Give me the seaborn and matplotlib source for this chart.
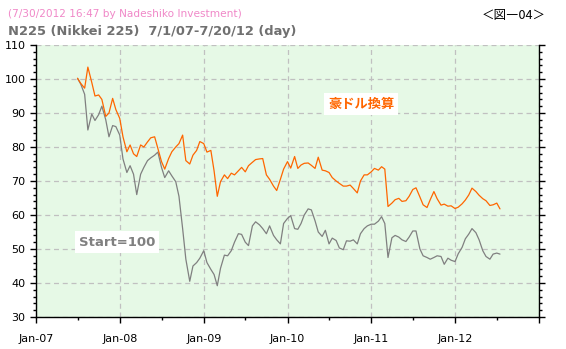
import numpy as np
import pandas as pd
import matplotlib
matplotlib.use("Agg")
import matplotlib.pyplot as plt
import matplotlib.dates as mdates
from matplotlib.ticker import MultipleLocator, FuncFormatter
import seaborn as sns

# Semi-monthly observations, 1 Jul 2007 - 15 Jul 2012 (start = 100)
dates = pd.date_range("2007-07-01", periods=122, freq="SMS")

# Nikkei 225 converted to Australian dollars
n225_aud = [
    100.2, 98.7, 97.3, 103.5, 99.0, 95.0, 95.3, 94.0, 89.0, 90.0, 94.3, 91.0,
    88.4, 83.0, 78.6, 80.6, 78.0, 77.2, 80.6, 80.0, 81.5, 82.7, 83.0, 79.6,
    75.7, 73.5, 76.6, 78.6, 80.0, 81.0, 83.5, 76.0, 75.0, 77.6, 79.0, 81.6,
    81.0, 78.5, 79.0, 73.0, 65.5, 69.8, 71.8, 70.7, 72.3, 71.8, 73.0, 74.0,
    72.7, 74.5, 75.5, 76.3, 76.5, 76.6, 71.8, 70.5, 68.5, 67.2, 70.5, 73.5,
    75.7, 73.8, 77.2, 73.7, 74.7, 75.2, 75.3, 74.6, 73.7, 77.0, 73.2, 73.0,
    72.5, 71.0, 70.0, 69.3, 68.5, 68.5, 68.8, 67.8, 66.5, 70.0, 71.8, 71.8,
    72.7, 73.7, 73.2, 74.2, 73.5, 62.5, 63.5, 64.5, 64.9, 64.0, 64.2, 65.5,
    67.5, 68.0, 65.3, 63.0, 62.2, 64.5, 66.9, 64.8, 62.9, 63.2, 62.6, 62.7,
    61.9, 62.3, 63.3, 64.4, 65.9, 67.9, 66.9, 65.8, 64.8, 64.2, 62.8, 63.0,
    63.5, 61.8,
]

# Nikkei 225 in yen
n225_yen = [
    100.2, 98.5, 95.5, 85.0, 89.7, 87.8, 89.5, 92.0, 88.0, 83.0, 86.3, 86.0,
    83.5, 76.5, 72.5, 74.5, 72.0, 66.0, 72.0, 74.0, 76.0, 76.8, 77.6, 78.5,
    74.0, 71.0, 73.0, 71.5, 69.8, 65.5, 56.0, 47.0, 40.5, 45.0, 46.0, 47.3,
    49.5, 46.0, 44.0, 42.5, 39.2, 44.3, 48.2, 48.0, 49.5, 52.0, 54.5, 54.3,
    52.0, 51.0, 56.8, 58.0, 57.1, 56.0, 54.5, 56.8, 54.0, 52.7, 51.5, 57.5,
    59.0, 59.8, 56.0, 55.8, 57.5, 60.0, 61.8, 61.5, 58.3, 55.0, 53.7, 55.5,
    51.5, 53.2, 52.5, 50.3, 49.8, 52.4, 52.3, 52.7, 51.5, 54.5, 56.0, 56.8,
    57.3, 57.3, 58.2, 59.5, 57.5, 47.5, 53.3, 54.0, 53.5, 52.7, 52.2, 53.5,
    55.3, 55.3, 50.0, 48.0, 47.5, 47.0, 47.5, 48.0, 47.8, 45.5, 47.3, 46.7,
    46.3, 48.6, 50.5, 53.0, 54.4, 56.0, 54.8, 52.7, 49.5, 47.8, 47.0, 48.5,
    48.8, 48.5,
]

series_names = ["豪ドル換算", "Start=100"]
colors = ["#ff6600", "#808080"]

df = pd.concat([
    pd.DataFrame({"date": dates, "value": n225_aud, "series": series_names[0]}),
    pd.DataFrame({"date": dates, "value": n225_yen, "series": series_names[1]}),
])

sns.set_theme(style="ticks")
plt.rcParams["font.family"] = ["DejaVu Sans", "Noto Sans CJK JP"]

W, H = 566, 349
fig = plt.figure(figsize=(W / 100, H / 100), dpi=100)
fig.patch.set_facecolor("white")
ax = fig.add_axes([36 / W, 1 - 317 / H, (539 - 36) / W, (317 - 45) / H])
ax.set_facecolor("#e6f9e6")

sns.lineplot(data=df, x="date", y="value", hue="series",
             palette=dict(zip(series_names, colors)),
             hue_order=[series_names[1], series_names[0]],
             linewidth=0.9, legend=False, ax=ax)

x_end = pd.Timestamp("2013-01-01")
ax.set_xlim(pd.Timestamp("2007-01-01"), x_end)
ax.set_ylim(30, 110)
ax.set_xlabel("")
ax.set_ylabel("")


def year_label(v, pos):
    d = mdates.num2date(v)
    if d.year >= x_end.year:
        return ""
    return d.strftime("%b-%y")


ax.xaxis.set_major_locator(mdates.YearLocator())
ax.xaxis.set_minor_locator(mdates.MonthLocator(bymonth=7))
ax.xaxis.set_major_formatter(FuncFormatter(year_label))
ax.yaxis.set_major_locator(MultipleLocator(10))
ax.yaxis.set_minor_locator(MultipleLocator(2))

ax.grid(True, which="major", color="#c0c0c0", linestyle=(0, (4, 3)), linewidth=0.9)
ax.set_axisbelow(True)

for side in ["left", "bottom", "right"]:
    ax.spines[side].set_color("black")
    ax.spines[side].set_linewidth(1.0)
ax.spines["top"].set_visible(False)

ax.tick_params(axis="both", which="major", direction="out", length=4, width=1,
               color="black", labelsize=8, labelcolor="black")
ax.tick_params(axis="both", which="minor", direction="out", length=2.5, width=1,
               color="black")
ax.tick_params(axis="y", which="both", left=True, right=True)
ax.tick_params(axis="x", which="major", pad=8)

# Header texts
fig.text(8 / W, 1 - 14 / H, "(7/30/2012 16:47 by Nadeshiko Investment)",
         color="#f088c8", fontsize=7.6, va="center", ha="left")
fig.text(8 / W, 1 - 31 / H, "N225 (Nikkei 225)  7/1/07-7/20/12 (day)",
         color="#707070", fontsize=9.4, fontweight="bold", va="center", ha="left")
fig.text(514 / W, 1 - 15 / H, "＜図―04＞", color="black", fontsize=9,
         va="center", ha="center", family=["Noto Sans CJK JP", "DejaVu Sans"])

# Series labels
fig.text(361 / W, 1 - 104 / H, series_names[0], color=colors[0], fontsize=9.5,
         fontweight="bold", va="center", ha="center",
         family=["Noto Sans CJK JP", "DejaVu Sans"],
         bbox=dict(facecolor="white", edgecolor="none", pad=3))
fig.text(117 / W, 1 - 242 / H, series_names[1], color=colors[1], fontsize=9.5,
         fontweight="bold", va="center", ha="center",
         bbox=dict(facecolor="white", edgecolor="none", pad=3))

fig.savefig("out.png", dpi=100)
